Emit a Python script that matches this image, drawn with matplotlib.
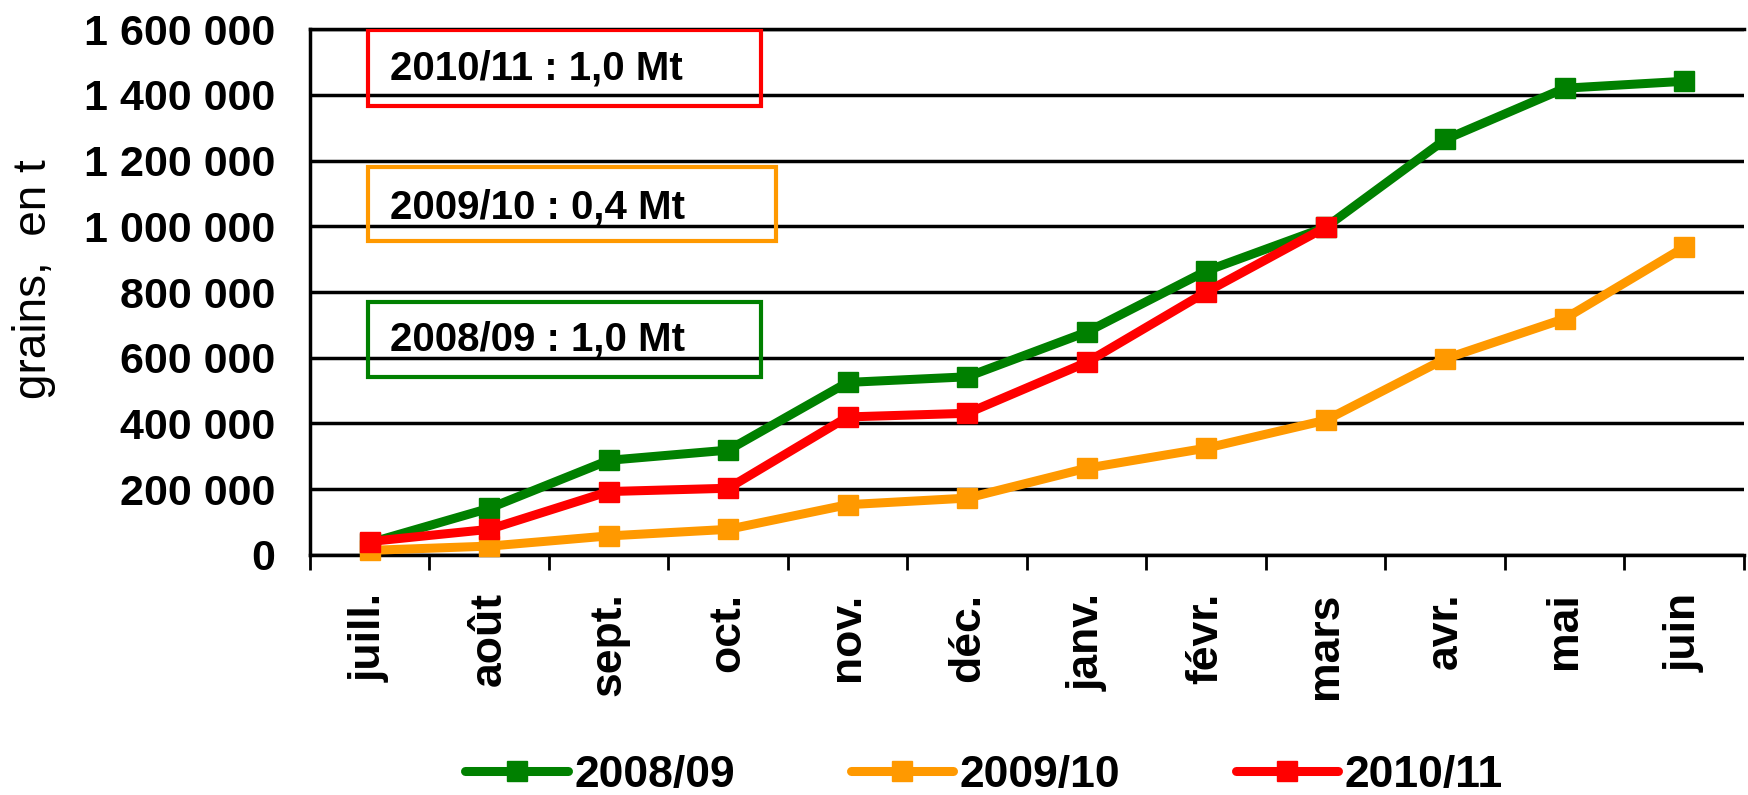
import matplotlib
matplotlib.use("Agg")
import matplotlib.pyplot as plt
from matplotlib.patches import Rectangle
import numpy as np

plt.rcParams['font.family'] = ['Liberation Sans', 'DejaVu Sans']

mois = ['juill.', 'août', 'sept.', 'oct.', 'nov.', 'déc.', 'janv.', 'févr.',
        'mars', 'avr.', 'mai', 'juin']
# cumul en tonnes
c2008 = [37000, 142000, 288000, 319000, 525000, 542000, 678000, 864000,
         997000, 1264000, 1420000, 1441000]
c2009 = [14000, 27000, 58000, 78000, 153000, 173000, 264000, 325000,
         410000, 597000, 719000, 936000]
c2010 = [41000, 78000, 193000, 203000, 420000, 431000, 586000, 800000, 997000]

yticks = [0, 200000, 400000, 600000, 800000, 1000000, 1200000, 1400000, 1600000]
ytick_labels = ['0', '200 000', '400 000', '600 000', '800 000', '1 000 000',
                '1 200 000', '1 400 000', '1 600 000']

boites = ['2010/11 : 1,0 Mt', '2009/10 : 0,4 Mt', '2008/09 : 1,0 Mt']

vert = '#008000'
orange = '#FF9900'
rouge = '#FF0000'

fig = plt.figure(figsize=(17.48, 7.95), dpi=100)
ax = fig.add_axes([0.1773, 0.3019, 0.8204, 0.6616])

x = np.arange(len(mois))
kw = dict(lw=6.5, marker='s', markersize=15, solid_capstyle='round', clip_on=False)
ax.plot(x, c2008, color=vert, label='2008/09', zorder=3, **kw)
ax.plot(x, c2009, color=orange, label='2009/10', zorder=3, **kw)
ax.plot(x[:len(c2010)], c2010, color=rouge, label='2010/11', zorder=4, **kw)

ax.set_xlim(-0.5, len(mois) - 0.5)
ax.set_ylim(0, 1600000)
ax.set_yticks(yticks)
ax.set_yticklabels(ytick_labels, fontsize=31, fontweight='bold')
ax.tick_params(axis='y', length=0, pad=25)
ax.yaxis.grid(True, color='black', lw=2.5)
ax.set_axisbelow(True)

ax.set_xticks(x)
ax.set_xticklabels(mois, rotation=90, fontsize=32, fontweight='bold', va='top')
ax.tick_params(axis='x', which='major', length=0, pad=27)
ax.set_xticks(np.arange(-0.5, len(mois), 1.0), minor=True)
ax.tick_params(axis='x', which='minor', length=11, width=2)

for s in ['left', 'bottom', 'top']:
    ax.spines[s].set_linewidth(2.5)
ax.spines['right'].set_visible(False)

ax.set_ylabel('grains,  en t', fontsize=33)
ax.yaxis.set_label_coords(-0.177, 0.525)

# encadrés
cadres = [(0.0404, 0.854, 0.2741, 0.144, rouge, 0.924),
          (0.0404, 0.597, 0.2846, 0.141, orange, 0.660),
          (0.0404, 0.338, 0.2741, 0.143, vert, 0.409)]
for txt, (x0, y0, w, h, c, ty) in zip(boites, cadres):
    ax.add_patch(Rectangle((x0, y0), w, h, transform=ax.transAxes, fill=False,
                           edgecolor=c, lw=3, zorder=5))
    ax.text(0.0558, ty, txt, transform=ax.transAxes, fontsize=29,
            fontweight='bold', va='center', ha='left', zorder=6)

fig.legend(loc='center', bbox_to_anchor=(0.563, 0.025), ncol=3, frameon=False,
           prop={'size': 32, 'weight': 'bold'}, handlelength=2.3,
           handletextpad=0.15, columnspacing=2.6)

fig.savefig('out.png', dpi=100)
